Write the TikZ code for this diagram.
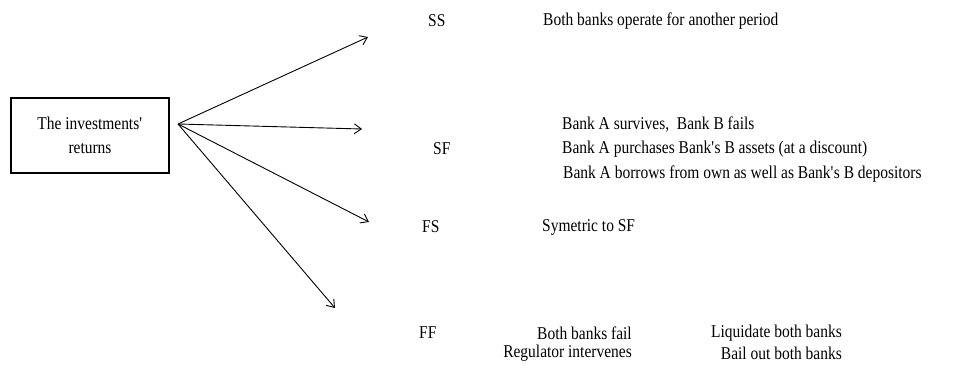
\documentclass[tikz,border=0pt]{standalone}
\usepackage{fontspec}
\setmainfont[FakeStretch=0.86]{Liberation Serif}
\usetikzlibrary{arrows.meta}
\begin{document}
\begin{tikzpicture}[x=1pt,y=-1pt,
  txt/.style={inner sep=0pt,font=\fontsize{18}{20}\selectfont},
  arr/.style={-{Straight Barb[length=7pt,width=10pt]},line width=0.9pt},
  box/.style={draw,line width=1.6pt,minimum width=158pt,minimum height=75pt,align=center,font=\fontsize{18}{24}\selectfont}]
\useasboundingbox (0,0) rectangle (966,367);
\node[box] (root) at (90,135.5) {The investments\textquotesingle\\returns};
\coordinate (o) at (178,124);
\coordinate (ess) at (368,37);
\coordinate (esf) at (362,129);
\coordinate (efs) at (369,222);
\coordinate (eff) at (335,308);
\draw[arr] (o) -- (ess);
\draw[arr] (o) -- (esf);
\draw[arr] (o) -- (efs);
\draw[arr] (o) -- (eff);
\node[txt,anchor=west] (ss) at (428,21) {SS};
\node[txt,anchor=west] (ssd) at (543,21) {Both banks operate for another period};
\node[txt,anchor=west] (sf1) at (562,125) {Bank A survives,\ \ Bank B fails};
\node[txt,anchor=west] (sf) at (433,149) {SF};
\node[txt,anchor=west] (sf2) at (562,149) {Bank A purchases Bank\textquotesingle s B assets (at a discount)};
\node[txt,anchor=west] (sf3) at (563,174) {Bank A borrows from own as well as Bank\textquotesingle s B depositors};
\node[txt,anchor=west] (fs) at (422,227) {FS};
\node[txt,anchor=west] (fsd) at (542,227) {Symetric to SF};
\node[txt,anchor=west] (ff) at (419,333) {FF};
\node[txt,anchor=east] (ff1) at (632,333) {Both banks fail};
\node[txt,anchor=east] (ff2) at (632,353) {Regulator intervenes};
\node[txt,anchor=east] (ff3) at (842,333) {Liquidate both banks};
\node[txt,anchor=east] (ff4) at (842,353) {Bail out both banks};
\end{tikzpicture}
\end{document}
